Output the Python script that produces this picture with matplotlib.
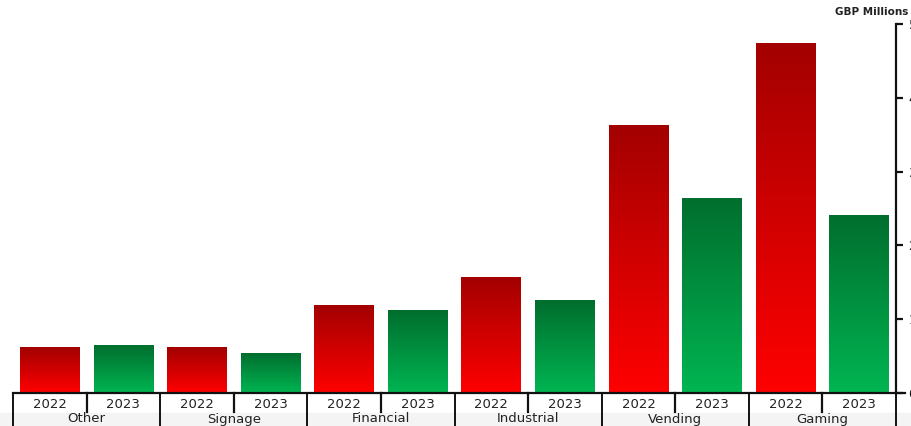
import numpy as np
import matplotlib
matplotlib.use('Agg')
import matplotlib.pyplot as plt
from matplotlib.colors import LinearSegmentedColormap
from matplotlib.patches import Rectangle

"""revenue by segment, 2022 vs 2023"""
categories = ['Other', 'Signage', 'Financial', 'Industrial', 'Vending', 'Gaming']
years = ['2022', '2023']
values_2022 = [6.2, 6.1, 11.8, 15.7, 36.3, 47.3]
values_2023 = [6.5, 5.4, 11.2, 12.5, 26.3, 24.0]
yticks = [0, 10, 20, 30, 40, 50]
unit_label = 'GBP Millions'

plt.rcParams['font.family'] = ['DejaVu Sans']

W, H = 911, 426
fig = plt.figure(figsize=(W / 100, H / 100), dpi=100)
fig.patch.set_facecolor('white')
# faint grey strip at the very bottom
fig.patches.append(Rectangle((0, 0), 1, 13 / H, transform=fig.transFigure,
                             color='#f4f4f4', zorder=0))
# axes box in pixels: x 13..896, y 24..393 from top
ax = fig.add_axes([13 / W, (H - 393) / H, (896 - 13) / W, (393 - 24) / H])
ax.set_zorder(2)
ax.patch.set_alpha(0)

red_cmap = LinearSegmentedColormap.from_list('reds', ['#ff0000', '#a30000'])
green_cmap = LinearSegmentedColormap.from_list('greens', ['#00b552', '#006e2e'])
grad = np.linspace(0, 1, 256).reshape(-1, 1)

bar_w = 0.81
for i in range(len(categories)):
    for j, (vals, cmap) in enumerate([(values_2022, red_cmap), (values_2023, green_cmap)]):
        x = 2 * i + j
        h = vals[i]
        ax.imshow(grad, cmap=cmap, origin='lower', aspect='auto',
                  extent=(x - bar_w / 2, x + bar_w / 2, 0, h), zorder=2)

ax.set_xlim(-0.5, 2 * len(categories) - 0.5)
ax.set_ylim(0, 50)

for s in ['left', 'top', 'bottom']:
    ax.spines[s].set_visible(False)
ax.spines['right'].set_linewidth(1.6)
ax.spines['right'].set_color('#111111')
ax.set_xticks([])
ax.yaxis.tick_right()
ax.set_yticks(yticks)
ax.set_yticklabels([str(t) for t in yticks], fontsize=9, color='#222222')
ax.tick_params(axis='y', direction='out', length=5, width=1.6, pad=4, colors='#111111')

# baseline, a bit longer than the axis
xt = ax.get_xaxis_transform()
ax.plot([-0.5, 2 * len(categories) - 0.38], [0, 0], transform=xt, color='#111111',
        lw=1.6, clip_on=False, zorder=3)

# separators below the axis
for k in range(len(categories) + 1):
    ax.plot([2 * k - 0.5, 2 * k - 0.5], [0, -36 / 369], transform=xt, color='#111111',
            lw=1.4, clip_on=False)
for k in range(len(categories)):
    ax.plot([2 * k + 0.5, 2 * k + 0.5], [0, -19 / 369], transform=xt, color='#111111',
            lw=1.6, clip_on=False)

for i, cat in enumerate(categories):
    for j, yr in enumerate(years):
        ax.annotate(yr, xy=(2 * i + j, 0), xycoords=xt, xytext=(0, -12),
                    textcoords='offset pixels', ha='center', va='center',
                    fontsize=9.5, color='#222222')
    ax.annotate(cat, xy=(2 * i + 0.5, 0), xycoords=xt, xytext=(0, -26),
                textcoords='offset pixels', ha='center', va='center',
                fontsize=9.5, color='#222222')

fig.text(835 / W, 1 - 12 / H, unit_label, ha='left', va='center', fontsize=7.5,
         fontweight='bold', color='#222222')

fig.savefig('out.png', dpi=100)
